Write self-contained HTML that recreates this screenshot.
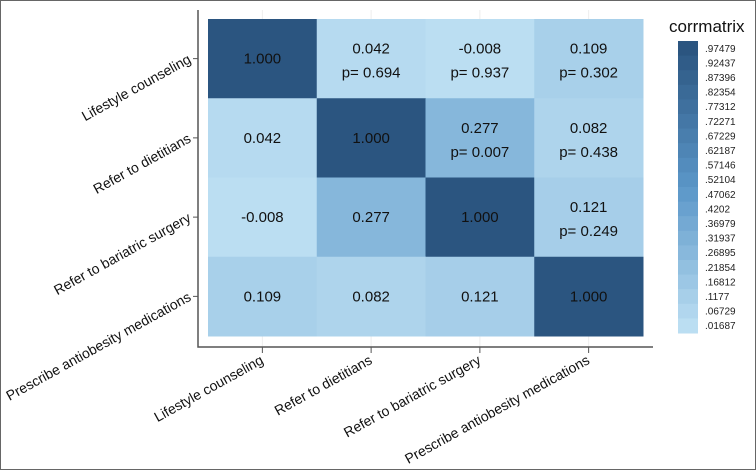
<!DOCTYPE html>
<html><head><meta charset="utf-8"><style>
body{margin:0;background:#fff;}
svg{display:block;font-family:"Liberation Sans",sans-serif;}
</style></head><body>
<svg id="c" width="756" height="470">
<rect x="0.5" y="0.5" width="755" height="469" fill="#fff" stroke="#666"/>
</svg>
<script>
const cats=["Lifestyle counseling","Refer to dietitians","Refer to bariatric surgery","Prescribe antiobesity medications"];
const corr=[[1,0.042,-0.008,0.109],[0.042,1,0.277,0.082],[-0.008,0.277,1,0.121],[0.109,0.082,0.121,1]];
const pvals=[[null,"0.694","0.937","0.302"],[null,null,"0.007","0.438"],[null,null,null,"0.249"],[null,null,null,null]];
const legendTicks=[".97479",".92437",".87396",".82354",".77312",".72271",".67229",".62187",".57146",".52104",".47062",".4202",".36979",".31937",".26895",".21854",".16812",".1177",".06729",".01687"];
const svg=document.getElementById('c');const NS='http://www.w3.org/2000/svg';
function mk(t,a,p){const e=document.createElementNS(NS,t);for(const k in a)e.setAttribute(k,a[k]);(p||svg).appendChild(e);return e;}
const X0=208,X1=643,Y0=19,Y1=336;
const cw=(X1-X0)/cats.length,ch=(Y1-Y0)/cats.length;
const xs=i=>X0+i*cw, ys=i=>Y0+i*ch;
function col(v){const t=Math.max(0,Math.min(1,(v-0.01687)/(0.97479-0.01687)));
const a=[187,222,242],m=[90,150,200],b=[43,85,128];
let c;if(t<0.5){const u=t/0.5;c=a.map((x,i)=>x+(m[i]-x)*u);}else{const u=(t-0.5)/0.5;c=m.map((x,i)=>x+(b[i]-x)*u);}
return `rgb(${c.map(Math.round).join(',')})`;}
for(let i=0;i<cats.length;i++){
 let g=mk('line',{x1:xs(i)+cw/2,x2:xs(i)+cw/2,y1:10,y2:347,stroke:'#eee'});
 
}
for(let r=0;r<cats.length;r++)for(let c=0;c<cats.length;c++){
 const v=corr[r][c];
 const rc=mk('rect',{x:xs(c),y:ys(r),width:cw+0.5,height:ch+0.5,fill:col(v)});
 
 const p=pvals[r][c];const cx=xs(c)+cw/2,cy=ys(r)+ch/2;
 const t=mk('text',{x:cx,y:p?cy-5:cy+5,'text-anchor':'middle','font-size':15,fill:'#111'});
 t.textContent=v.toFixed(3);
 if(p){const t2=mk('text',{x:cx,y:cy+19,'text-anchor':'middle','font-size':15,fill:'#111'});
 t2.textContent='p= '+p;}
}
let ax=mk('path',{d:'M198,10V347H653',fill:'none',stroke:'#555','stroke-width':1.5});

for(let i=0;i<cats.length;i++){
 const cy=ys(i)+ch/2,cx=xs(i)+cw/2;
 let tk=mk('line',{x1:193,x2:198,y1:cy,y2:cy,stroke:'#555'});
 let tk2=mk('line',{x1:cx,x2:cx,y1:347,y2:353,stroke:'#555'});
 let yl=mk('text',{x:190,y:cy+4,'text-anchor':'end','font-size':14,fill:'#111',transform:`rotate(-29 190 ${cy})`});
 yl.textContent=cats[i];
 let xl=mk('text',{x:cx+2,y:363,'text-anchor':'end','font-size':14,fill:'#111',transform:`rotate(-29 ${cx+2} 363)`});
 xl.textContent=cats[i];
}
let lt=mk('text',{x:669,y:32,'font-size':17,fill:'#111'});lt.textContent='corrmatrix';

const LY0=41,LY1=333,n=legendTicks.length,sh=(LY1-LY0)/n;
legendTicks.forEach((s,i)=>{
 const v=parseFloat(s);
 const r=mk('rect',{x:678,y:LY0+i*sh,width:20,height:sh+0.5,fill:col(v)});
 
 const t=mk('text',{x:705,y:LY0+i*sh+sh/2+3.5,'font-size':10,fill:'#222'});t.textContent=s;
 
});
</script>
</body></html>
